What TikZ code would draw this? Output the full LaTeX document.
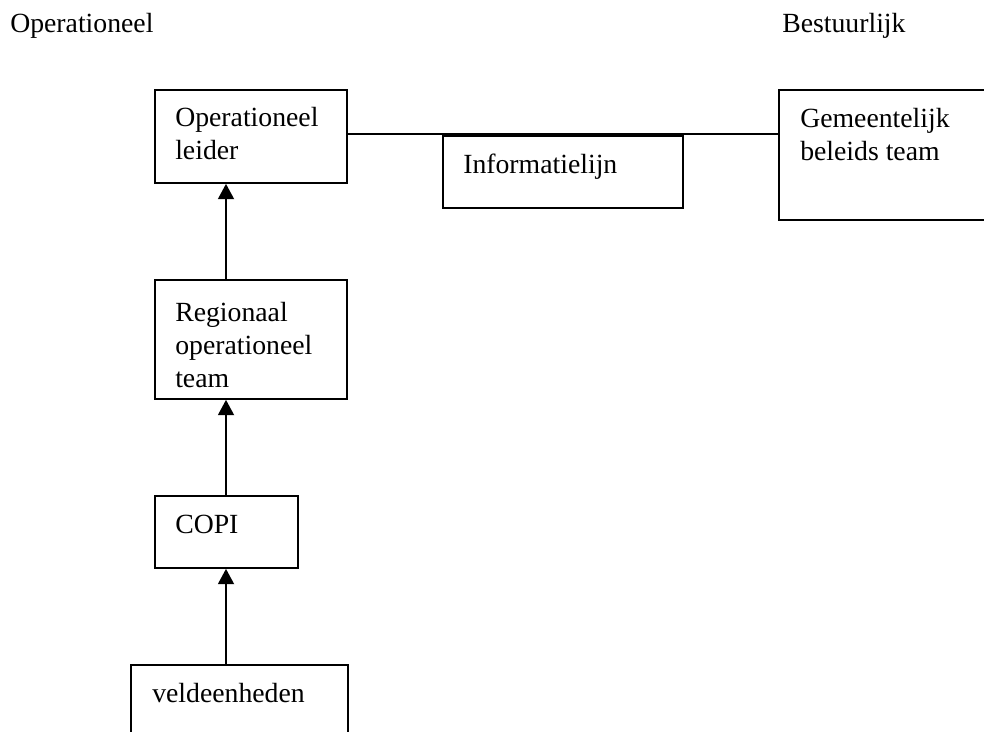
\documentclass[tikz,border=0pt]{standalone}
\usepackage{fontspec}
\setmainfont{Liberation Serif}
\usetikzlibrary{arrows.meta}
\begin{document}
\begin{tikzpicture}[x=0.75pt,y=-0.75pt,
  box/.style={draw=black,line width=1.4pt,rectangle,inner sep=0pt,anchor=north west},
  txt/.style={anchor=base west,inner sep=0pt,align=left,font=\fontsize{20.8}{24.75}\selectfont},
  conn/.style={draw=black,line width=1.4pt},
  arr/.style={conn,-{Triangle[width=12pt,length=11.5pt]}}]
\clip (0,0) rectangle (984,731);
\useasboundingbox (0,0) rectangle (984,731);
% headings
\node[txt] (hop) at (10,33) {Operationeel};
\node[txt] (hbest) at (782,33) {Bestuurlijk};
% boxes
\node[box,minimum width=192*0.75pt,minimum height=93*0.75pt] (ol) at (154,89) {};
\node[box,minimum width=240*0.75pt,minimum height=72*0.75pt] (info) at (442,135) {};
\node[box,minimum width=230*0.75pt,minimum height=130*0.75pt] (gem) at (778,89) {};
\node[box,minimum width=192*0.75pt,minimum height=119*0.75pt] (reg) at (154,279) {};
\node[box,minimum width=143*0.75pt,minimum height=72*0.75pt] (copi) at (154,495) {};
\node[box,minimum width=217*0.75pt,minimum height=100*0.75pt] (veld) at (130,664) {};
% texts (base anchor = baseline of the last line)
\node[txt] (olt) at (175,160) {Operationeel\\leider};
\node[txt] (infot) at (463,173) {Informatielijn};
\node[txt] (gemt) at (800,161) {Gemeentelijk\\beleids team};
\node[txt] (regt) at (175,387) {Regionaal\\operationeel\\team};
\node[txt] (copit) at (175,533) {COPI};
\node[txt] (veldt) at (152,702) {veldeenheden};
% connectors
\coordinate (ax) at (226,0);
\coordinate (ln) at (0,134);
\draw[conn] (ol.east |- ln) -- (gem.west |- ln);
\draw[arr] (reg.north -| ax) -- (ol.south -| ax);
\draw[arr] (copi.north -| ax) -- (reg.south -| ax);
\draw[arr] (veld.north -| ax) -- (copi.south -| ax);
\end{tikzpicture}
\end{document}
